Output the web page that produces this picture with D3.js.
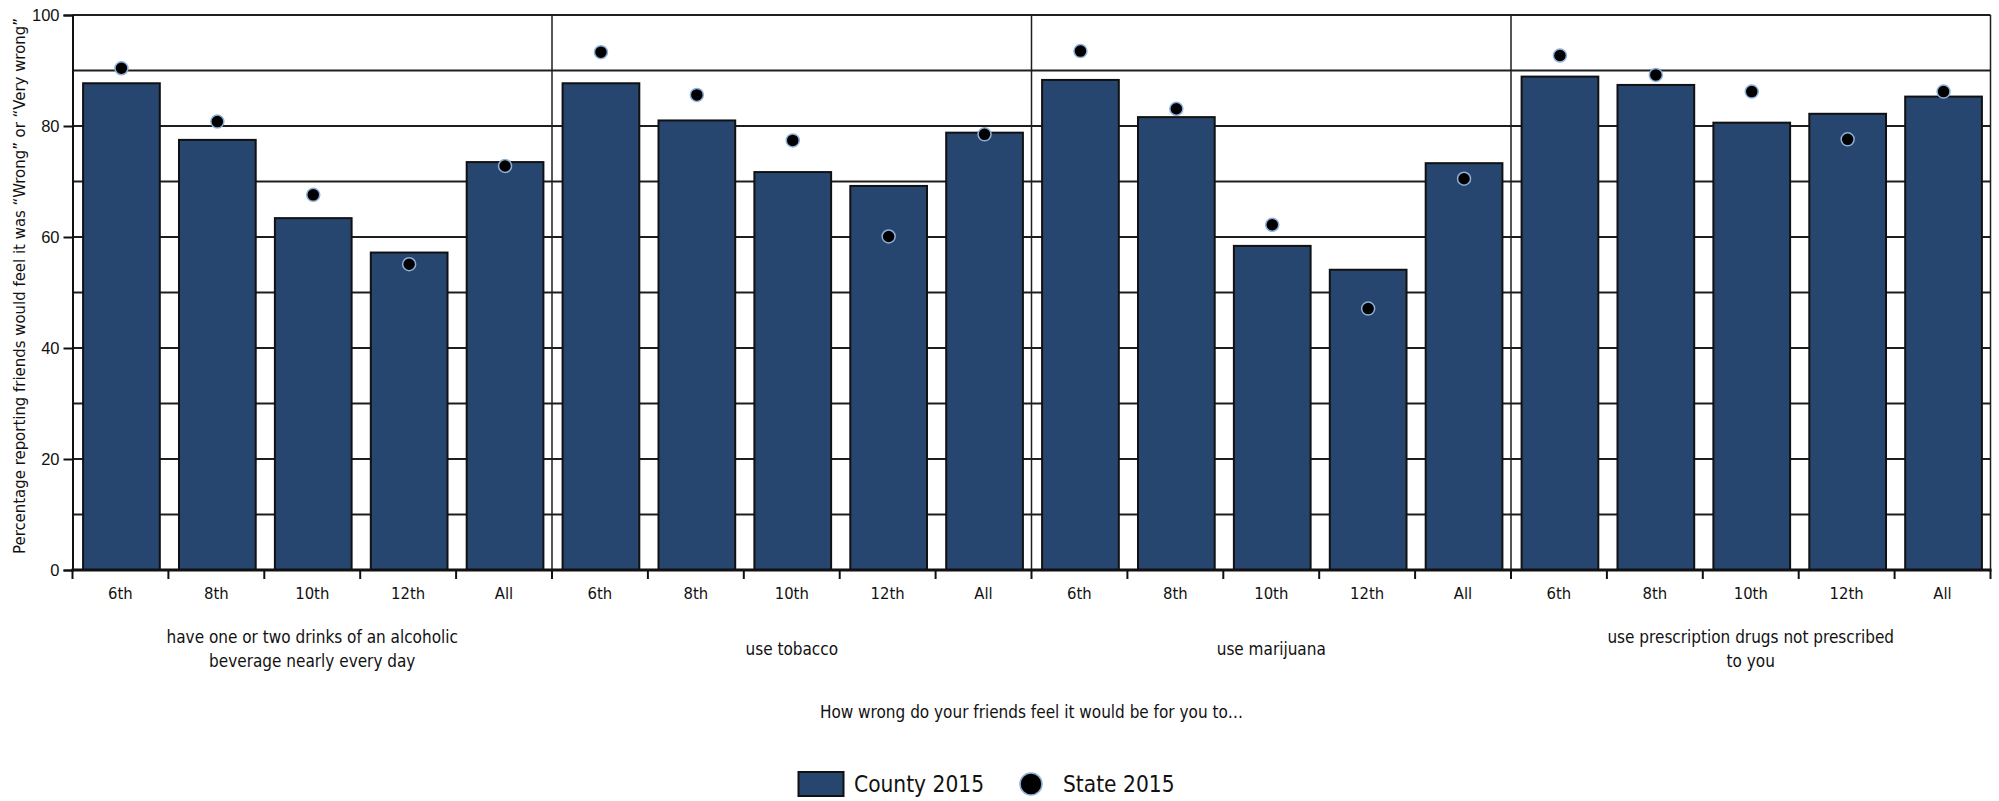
<!DOCTYPE html>
<html>
<head>
<meta charset="utf-8">
<script src="https://cdn.jsdelivr.net/npm/d3@7"></script>
<style>
	body { margin: 0; background: #fff; }
	svg { display: block; font-family: "DejaVu Sans Condensed", "Liberation Sans Narrow", sans-serif; }
</style>
</head>
<body>
<svg width="1999" height="801"></svg>
<script>
// Friends' disapproval chart: county bars with state dots

var topics = ['alcohol', 'tobacco', 'marijuana', 'rx']
var topicLabels = [
	['have one or two drinks of an alcoholic', 'beverage nearly every day'],
	['use tobacco'],
	['use marijuana'],
	['use prescription drugs not prescribed', 'to you']
]
var grades = ['6th', '8th', '10th', '12th', 'All']

// County 2015, one row per topic, in grade order
var county2015 = [
	[87.7, 77.5, 63.4, 57.2, 73.5],
	[87.7, 81.0, 71.7, 69.2, 78.8],
	[88.3, 81.6, 58.4, 54.1, 73.3],
	[88.9, 87.4, 80.6, 82.2, 85.3]
]
// State 2015
var state2015 = [
	[90.4, 80.8, 67.6, 55.1, 72.8],
	[93.3, 85.6, 77.4, 60.1, 78.5],
	[93.5, 83.1, 62.2, 47.1, 70.5],
	[92.7, 89.2, 86.2, 77.6, 86.2]
]
var yTicks = [0, 20, 40, 60, 80, 100]
var gridTicks = [0, 10, 20, 30, 40, 50, 60, 70, 80, 90, 100]

var barColor = '#27466f'
var plotLeft = 72.5, plotRight = 1990.5, plotTop = 15, plotBottom = 570

var svg = d3.select('svg')

var x0 = d3.scaleBand().domain(topics).range([plotLeft, plotRight])
var x1 = d3.scaleBand().domain(grades).range([0, x0.bandwidth()])
	.paddingInner(0.2).paddingOuter(0.1)
var y = d3.scaleLinear().domain([0, 100]).range([plotBottom, plotTop])

// gridlines every 10
svg.append('g')
	.selectAll('line')
	.data(gridTicks)
	.enter()
	.append('line')
	.attr('x1', plotLeft).attr('x2', plotRight)
	.attr('y1', function(d) { return y(d) })
	.attr('y2', function(d) { return y(d) })
	.attr('stroke', '#1e1e1e')
	.attr('stroke-width', 2)

// group separators + right border
svg.append('g')
	.selectAll('line')
	.data(topics.slice(1).concat(['end']))
	.enter()
	.append('line')
	.attr('x1', function(d) { return d == 'end' ? plotRight : x0(d) })
	.attr('x2', function(d) { return d == 'end' ? plotRight : x0(d) })
	.attr('y1', plotTop).attr('y2', plotBottom)
	.attr('stroke', '#1e1e1e')
	.attr('stroke-width', 1.5)

var rows = []
for (var i = 0; i < topics.length; i++) {
	for (var j = 0; j < grades.length; j++) {
		rows.push({topic: topics[i], grade: grades[j], county: county2015[i][j], state: state2015[i][j]})
	}
}

// bars
svg.append('g')
	.selectAll('rect')
	.data(rows)
	.enter()
	.append('rect')
	.attr('x', function(d) { return x0(d.topic) + x1(d.grade) + 1 })
	.attr('y', function(d) { return y(d.county) })
	.attr('width', x1.bandwidth())
	.attr('height', function(d) { return plotBottom - y(d.county) })
	.attr('fill', barColor)
	.attr('stroke', '#111')
	.attr('stroke-width', 2)

// state dots
svg.append('g')
	.selectAll('circle')
	.data(rows)
	.enter()
	.append('circle')
	.attr('cx', function(d) { return x0(d.topic) + x1(d.grade) + 1 + x1.bandwidth() / 2 })
	.attr('cy', function(d) { return y(d.state) })
	.attr('r', 6.5)
	.attr('fill', '#000')
	.attr('stroke', '#8fb0d8')
	.attr('stroke-width', 1.5)

// y axis
var yAxis = svg.append('g')
	.attr('transform', 'translate(' + plotLeft + ',0)')
	.call(d3.axisLeft(y).tickValues(yTicks).tickSize(9).tickPadding(4))
yAxis.select('.domain').attr('stroke', '#111').attr('stroke-width', 2)
yAxis.selectAll('.tick line').attr('stroke', '#111').attr('stroke-width', 2)
yAxis.selectAll('text')
	.style('font-family', 'inherit')
	.attr('font-size', 16.5)
	.attr('fill', '#111')

// x axis: ticks at every band edge
var edges = []
for (var i = 0; i < topics.length; i++) {
	for (var j = 0; j < grades.length; j++) {
		edges.push(x0(topics[i]) + x1.step() * j)
	}
}
edges.push(plotRight)

svg.append('g')
	.selectAll('line')
	.data(edges)
	.enter()
	.append('line')
	.attr('x1', function(d) { return d }).attr('x2', function(d) { return d })
	.attr('y1', plotBottom).attr('y2', plotBottom + 9)
	.attr('stroke', '#111')
	.attr('stroke-width', 2)

svg.append('line')
	.attr('x1', plotLeft - 1).attr('x2', plotRight + 1)
	.attr('y1', plotBottom).attr('y2', plotBottom)
	.attr('stroke', '#111')
	.attr('stroke-width', 3)

svg.append('g')
	.selectAll('text')
	.data(rows)
	.enter()
	.append('text')
	.attr('x', function(d) { return x0(d.topic) + x1.step() * (grades.indexOf(d.grade) + 0.5) })
	.attr('y', 593)
	.attr('dy', '0.35em')
	.attr('text-anchor', 'middle')
	.attr('font-size', 16.5)
	.attr('fill', '#111')
	.text(function(d) { return d.grade })

// topic labels
var tl = svg.append('g')
	.selectAll('text')
	.data(topics)
	.enter()
	.append('text')
	.attr('text-anchor', 'middle')
	.attr('font-size', 17)
	.attr('fill', '#111')
tl.each(function(d, i) {
	var lines = topicLabels[i]
	var t = d3.select(this)
	var cx = x0(d) + x0.bandwidth() / 2
	lines.forEach(function(line, k) {
		t.append('tspan')
			.attr('x', cx)
			.attr('y', 649 + (k - (lines.length - 1) / 2) * 24)
			.attr('dy', '0.35em')
			.text(line)
	})
})

// axis titles
svg.append('text')
	.attr('x', (plotLeft + plotRight) / 2)
	.attr('y', 712)
	.attr('dy', '0.35em')
	.attr('text-anchor', 'middle')
	.attr('font-size', 17)
	.attr('fill', '#111')
	.text('How wrong do your friends feel it would be for you to…')

svg.append('text')
	.attr('transform', 'translate(19,' + 286 + ') rotate(-90)')
	.attr('dy', '0.35em')
	.attr('text-anchor', 'middle')
	.attr('font-size', 16.6)
	.attr('fill', '#111')
	.text('Percentage reporting friends would feel it was “Wrong” or “Very wrong”')

// legend
var legend = svg.append('g').attr('transform', 'translate(0,784)')
legend.append('rect')
	.attr('x', 798.5).attr('y', -12)
	.attr('width', 45).attr('height', 24)
	.attr('fill', barColor)
	.attr('stroke', '#111')
	.attr('stroke-width', 2)
legend.append('text')
	.attr('x', 854).attr('dy', '0.35em')
	.attr('font-size', 22.5)
	.attr('fill', '#111')
	.text('County 2015')
legend.append('circle')
	.attr('cx', 1031).attr('cy', 0)
	.attr('r', 11)
	.attr('fill', '#000')
	.attr('stroke', '#8fb0d8')
	.attr('stroke-width', 1.5)
legend.append('text')
	.attr('x', 1063).attr('dy', '0.35em')
	.attr('font-size', 22.5)
	.attr('fill', '#111')
	.text('State 2015')
</script>
</body>
</html>
